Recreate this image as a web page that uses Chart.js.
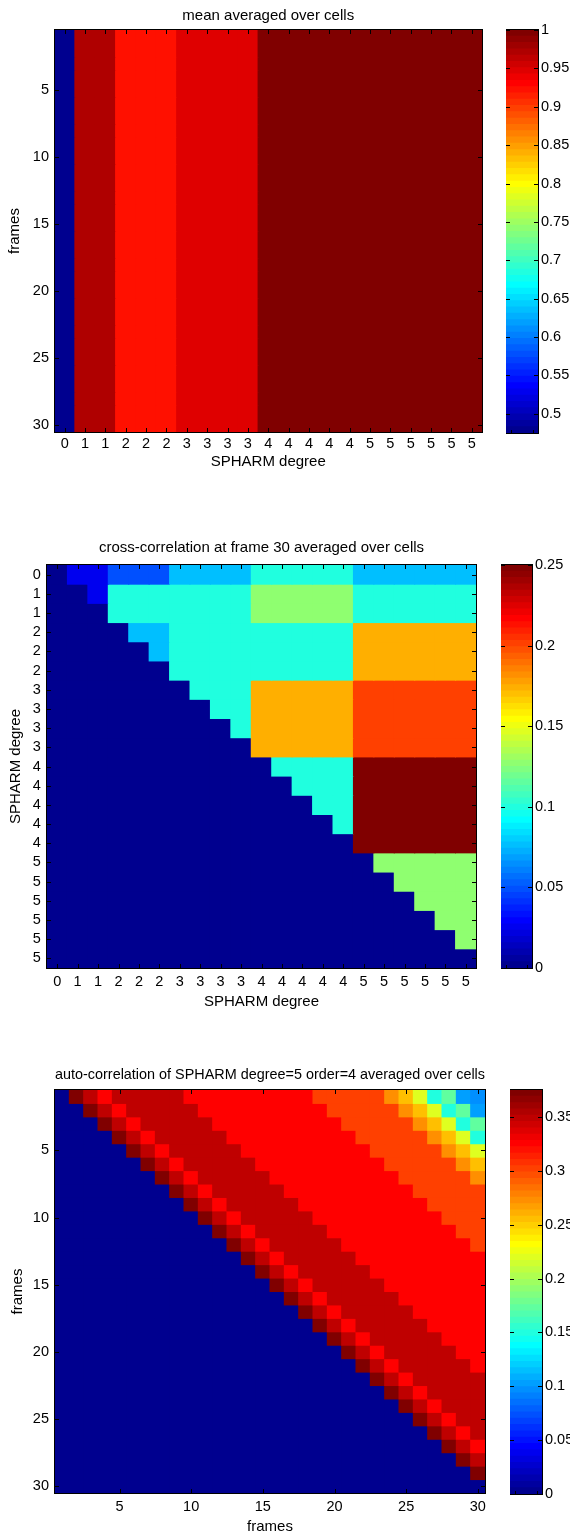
<!DOCTYPE html>
<html>
<head>
<meta charset="utf-8">
<title>SPHARM coefficient statistics</title>
<script src="https://cdn.jsdelivr.net/npm/chart.js@4/dist/chart.umd.min.js"></script>
<style>
  html, body { margin: 0; padding: 0; background: #fff; }
  body { width: 570px; height: 1536px; position: relative; overflow: hidden; }
  .box { position: absolute; }
</style>
</head>
<body>
<div class="box" style="left:0;top:0;width:537px;height:475px"><canvas id="meanMap"></canvas></div>
<div class="box" style="left:506px;top:10px;width:64px;height:443px"><canvas id="meanBar"></canvas></div>

<div class="box" style="left:0;top:530px;width:523px;height:485px"><canvas id="xcorrMap"></canvas></div>
<div class="box" style="left:501px;top:545px;width:69px;height:443px"><canvas id="xcorrBar"></canvas></div>

<div class="box" style="left:0;top:1055px;width:540px;height:481px"><canvas id="autoMap"></canvas></div>
<div class="box" style="left:510px;top:1070px;width:60px;height:444px"><canvas id="autoBar"></canvas></div>

<script>
// ---------------- data ----------------
// SPHARM degree of each of the 21 coefficients (degrees 0..5)
const coeffDegreeLabels = ['0','1','1','2','2','2','3','3','3','3','4','4','4','4','4','5','5','5','5','5','5'];
const frameLabels = ['1','2','3','4','5','6','7','8','9','10','11','12','13','14','15',
                     '16','17','18','19','20','21','22','23','24','25','26','27','28','29','30'];
const frameTickValues = [5, 10, 15, 20, 25, 30];

// mean of each coefficient (the same in every frame)
const meanPerCoeff = [0.475, 0.97, 0.97, 0.92, 0.92, 0.92, 0.945, 0.945, 0.945, 0.945,
                      0.998, 0.998, 0.998, 0.998, 0.998, 0.998, 0.998, 0.998, 0.998, 0.998, 0.998];
const meanColorRange = [0.475, 1];
const meanColorTicks = [0.5, 0.55, 0.6, 0.65, 0.7, 0.75, 0.8, 0.85, 0.9, 0.95, 1];

// cross-correlation at frame 30 between degree blocks (row degree -> column degree),
// only the part above the diagonal is filled
const xcorrDegree0 = [0, 0.025, 0.049, 0.076, 0.099, 0.076];
const xcorrDegree1 = [0, 0.025, 0.099, 0.099, 0.127, 0.099];
const xcorrDegree2 = [0, 0,     0.076, 0.099, 0.099, 0.174];
const xcorrDegree3 = [0, 0,     0,     0.099, 0.174, 0.200];
const xcorrDegree4 = [0, 0,     0,     0,     0.099, 0.250];
const xcorrDegree5 = [0, 0,     0,     0,     0,     0.127];
const xcorrColorRange = [0, 0.25];
const xcorrColorTicks = [0, 0.05, 0.1, 0.15, 0.2, 0.25];

// auto-correlation of degree 5 / order 4 against frame lag (column frame - row frame)
const autoPerLag = [0, 0.372, 0.348, 0.325, 0.348, 0.348, 0.348, 0.348, 0.348,
                    0.325, 0.325, 0.325, 0.325, 0.325, 0.325, 0.325, 0.325, 0.325,
                    0.302, 0.302, 0.302, 0.302, 0.302,
                    0.272, 0.255, 0.22, 0.15, 0.173, 0.104, 0.095];
const autoColorRange = [0, 0.375];
const autoColorTicks = [0, 0.05, 0.1, 0.15, 0.2, 0.25, 0.3, 0.35];

// ---------------- colour map (MATLAB jet, 64 levels) ----------------
function jetColormap(m) {
  const n = Math.ceil(m / 4);
  const u = [];
  for (let i = 1; i <= n; i++) u.push(i / n);
  for (let i = 1; i < n; i++) u.push(1);
  for (let i = n; i >= 1; i--) u.push(i / n);
  const g0 = Math.ceil(n / 2) - (m % 4 === 1 ? 1 : 0);
  const cols = Array.from({ length: m }, () => [0, 0, 0]);
  u.forEach((val, i) => {
    const g = g0 + i + 1, r = g + n, b = g - n;
    if (r >= 1 && r <= m) cols[r - 1][0] = val;
    if (g >= 1 && g <= m) cols[g - 1][1] = val;
    if (b >= 1 && b <= m) cols[b - 1][2] = val;
  });
  return cols.map(c => `rgb(${Math.round(c[0] * 255)},${Math.round(c[1] * 255)},${Math.round(c[2] * 255)})`);
}
const JET = jetColormap(64);
function colorOf(v, range) {
  const k = Math.floor((v - range[0]) / (range[1] - range[0]) * JET.length);
  return JET[Math.max(0, Math.min(JET.length - 1, k))];
}

// ---------------- chart setup ----------------
const FONT = '"Liberation Sans", Arial, Helvetica, sans-serif';
Chart.defaults.font.family = FONT;
Chart.defaults.font.size = 14.5;
Chart.defaults.color = '#000';
const LABEL_FONT = { family: FONT, size: 15, weight: 'normal' };

// black box round the plot area with short inward tick marks on all sides
const axesBox = {
  id: 'axesBox',
  afterDatasetsDraw(chart, args, opts) {
    const { ctx, chartArea: a } = chart;
    const L = Math.round(a.left), R = Math.round(a.right);
    const T = Math.round(a.top), B = Math.round(a.bottom);
    const len = opts.len || 4;
    ctx.save();
    ctx.strokeStyle = '#000';
    ctx.lineWidth = 1;
    ctx.beginPath();
    if (opts.xTicks) {
      const xs = chart.scales.x;
      xs.ticks.forEach((t, i) => {
        const px = Math.round(xs.getPixelForTick(i)) + 0.5;
        ctx.moveTo(px, B); ctx.lineTo(px, B - len);
        ctx.moveTo(px, T); ctx.lineTo(px, T + len);
      });
    }
    if (opts.bottomMarks) {
      [L + 5.5, R - 4.5].forEach(px => { ctx.moveTo(px, B); ctx.lineTo(px, B - 3); });
    }
    const ys = chart.scales.y;
    ys.ticks.forEach((t, i) => {
      const py = Math.round(ys.getPixelForTick(i)) + 0.5;
      ctx.moveTo(L, py); ctx.lineTo(L + len, py);
      ctx.moveTo(R, py); ctx.lineTo(R - len, py);
    });
    ctx.stroke();
    ctx.strokeRect(L - 0.5, T - 0.5, R - L + 1, B - T + 1);
    ctx.restore();
  }
};

function heatmap(canvasId, spec) {
  const datasets = [];
  for (let r = 1; r <= spec.rows; r++) {
    datasets.push({
      data: spec.columns.map(() => [r - 0.5, r + 0.5]),
      backgroundColor: spec.columns.map((_, c) => colorOf(spec.value(r - 1, c), spec.range)),
      borderWidth: 0,
      inflateAmount: 0.5,
      grouped: false,
      barPercentage: 1,
      categoryPercentage: 1
    });
  }
  return new Chart(document.getElementById(canvasId), {
    type: 'bar',
    data: { labels: spec.columns, datasets },
    plugins: [axesBox],
    options: {
      responsive: true,
      maintainAspectRatio: false,
      animation: false,
      events: [],
      layout: { padding: { left: 0, right: spec.padRight, top: 0, bottom: 0 } },
      plugins: {
        legend: { display: false },
        tooltip: { enabled: false },
        title: {
          display: true, text: spec.title, fullSize: false,
          font: LABEL_FONT, color: '#000',
          padding: { top: spec.titlePad[0], bottom: spec.titlePad[1] }
        },
        axesBox: { xTicks: true, len: 4 }
      },
      scales: {
        x: {
          type: 'category', position: 'bottom', offset: true,
          grid: { display: false, drawTicks: false },
          border: { display: false },
          ticks: { autoSkip: false, maxRotation: 0, minRotation: 0, padding: spec.xTickPad },
          title: { display: true, text: spec.xTitle, font: LABEL_FONT, padding: { top: 0, bottom: spec.xTitlePad } },
          afterBuildTicks: s => { if (spec.xTickIndex) s.ticks = s.ticks.filter(t => spec.xTickIndex.includes(t.value)); },
          afterFit: s => { s.height = spec.xAxisHeight; }
        },
        y: {
          type: 'linear', position: 'left', reverse: true,
          min: 0.5, max: spec.rows + 0.5,
          grid: { display: false, drawTicks: false },
          border: { display: false },
          ticks: { autoSkip: false, padding: spec.yTickPad, callback: v => spec.yLabel(v) },
          title: { display: true, text: spec.yTitle, font: LABEL_FONT, padding: { top: spec.yTitlePad, bottom: 0 } },
          afterBuildTicks: s => { s.ticks = spec.yTicks.map(v => ({ value: v })); },
          afterFit: s => { s.width = spec.yAxisWidth; }
        }
      }
    }
  });
}

function colorbar(canvasId, range, tickValues, axisWidth) {
  const step = (range[1] - range[0]) / JET.length;
  const datasets = JET.map((col, k) => ({
    data: [[range[0] + k * step, range[0] + (k + 1) * step]],
    backgroundColor: col,
    borderWidth: 0,
    inflateAmount: 0.5,
    grouped: false,
    barPercentage: 1,
    categoryPercentage: 1
  }));
  return new Chart(document.getElementById(canvasId), {
    type: 'bar',
    data: { labels: [''], datasets },
    plugins: [axesBox],
    options: {
      responsive: true,
      maintainAspectRatio: false,
      animation: false,
      events: [],
      layout: { padding: { left: 0, right: 0, top: 20, bottom: 20 } },
      plugins: {
        legend: { display: false },
        tooltip: { enabled: false },
        axesBox: { xTicks: false, bottomMarks: true, len: 4 }
      },
      scales: {
        x: { type: 'category', display: false, offset: true },
        y: {
          type: 'linear', position: 'right', min: range[0], max: range[1],
          grid: { display: false, drawTicks: false },
          border: { display: false },
          ticks: { autoSkip: false, padding: 3, callback: v => String(v) },
          afterBuildTicks: s => { s.ticks = tickValues.map(v => ({ value: v })); },
          afterFit: s => { s.width = axisWidth; }
        }
      }
    }
  });
}

// ---- mean averaged over cells ----
heatmap('meanMap', {
  columns: coeffDegreeLabels, rows: frameLabels.length,
  value: (r, c) => meanPerCoeff[c], range: meanColorRange,
  title: 'mean averaged over cells', xTitle: 'SPHARM degree', yTitle: 'frames',
  yTicks: frameTickValues, yLabel: v => String(v),
  padRight: 55, titlePad: [6.5, 5.5], xTickPad: 3.3, xTitlePad: 4.5, xAxisHeight: 43,
  yTickPad: 5.5, yTitlePad: 6, yAxisWidth: 54.5
});
colorbar('meanBar', meanColorRange, meanColorTicks, 32);

// ---- cross-correlation at frame 30 ----
const xcorrBlocks = [xcorrDegree0, xcorrDegree1, xcorrDegree2, xcorrDegree3, xcorrDegree4, xcorrDegree5];
heatmap('xcorrMap', {
  columns: coeffDegreeLabels, rows: coeffDegreeLabels.length,
  value: (r, c) => c > r ? xcorrBlocks[+coeffDegreeLabels[r]][+coeffDegreeLabels[c]] : 0,
  range: xcorrColorRange,
  title: 'cross-correlation at frame 30 averaged over cells', xTitle: 'SPHARM degree', yTitle: 'SPHARM degree',
  yTicks: coeffDegreeLabels.map((_, i) => i + 1), yLabel: v => coeffDegreeLabels[v - 1],
  padRight: 47, titlePad: [9, 8], xTickPad: 5.3, xTitlePad: 4.5, xAxisHeight: 47,
  yTickPad: 6.3, yTitlePad: 6.5, yAxisWidth: 47
});
colorbar('xcorrBar', xcorrColorRange, xcorrColorTicks, 38);

// ---- auto-correlation of degree 5, order 4 ----
heatmap('autoMap', {
  columns: frameLabels, rows: frameLabels.length,
  value: (r, c) => c > r ? autoPerLag[c - r] : 0,
  range: autoColorRange,
  title: 'auto-correlation of SPHARM degree=5 order=4 averaged over cells', xTitle: 'frames', yTitle: 'frames',
  xTickIndex: frameTickValues.map(v => v - 1),
  yTicks: frameTickValues, yLabel: v => String(v),
  padRight: 55, titlePad: [10.5, 6.5], xTickPad: 5.3, xTitlePad: 0.5, xAxisHeight: 43,
  yTickPad: 6, yTitlePad: 9, yAxisWidth: 55
});
colorbar('autoBar', autoColorRange, autoColorTicks, 28);
</script>
</body>
</html>
